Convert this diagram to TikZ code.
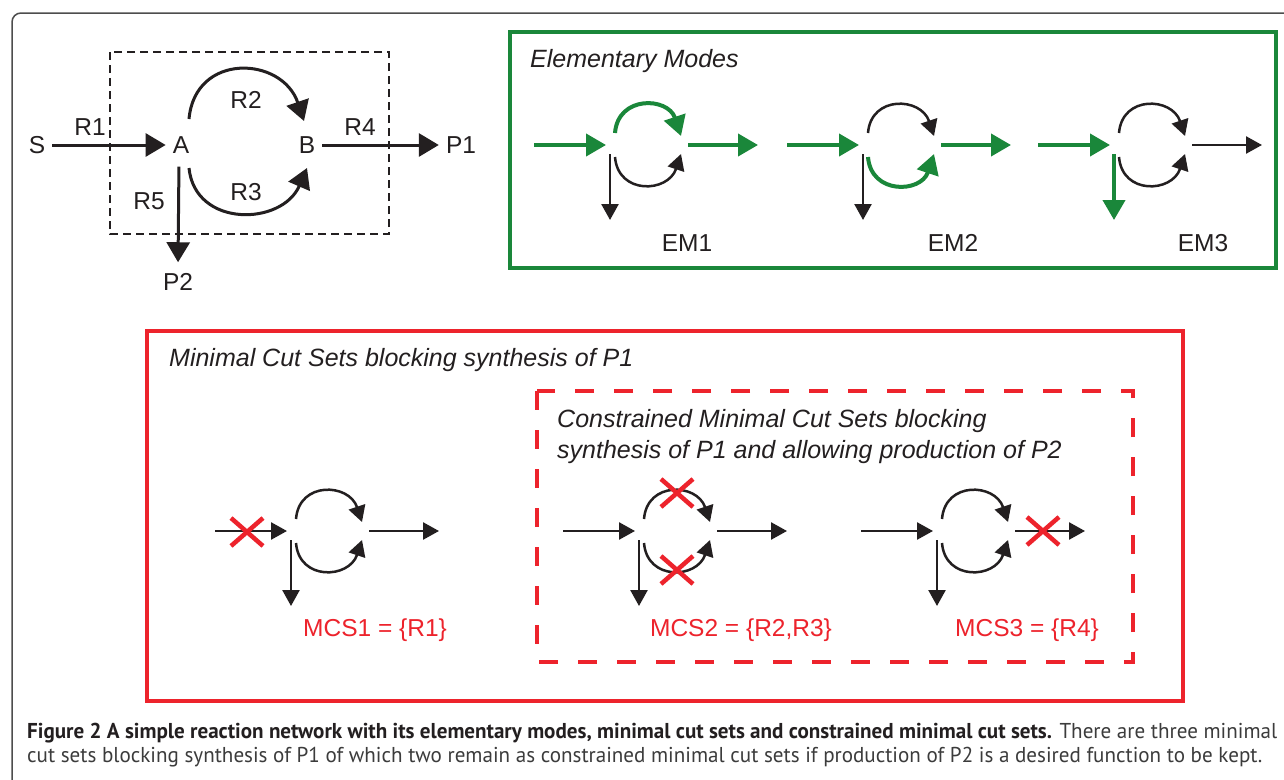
\documentclass[tikz,border=0pt]{standalone}
\usepackage{fontspec}
\usepackage{graphicx}
\setmainfont{Liberation Sans}
\newfontfamily\capfont{PT Sans}
\usetikzlibrary{arrows.meta,calc}

\definecolor{ink}{HTML}{231F20}
\definecolor{emgreen}{RGB}{26,135,58}
\definecolor{mcsred}{RGB}{237,35,44}
\definecolor{framegray}{HTML}{4D4D4D}
\definecolor{capgray}{HTML}{3C3C3C}

\tikzset{
  % one small copy of the network: input, upper branch, lower branch, side outlet, output
  pics/motif/.style n args={5}{code={
    \draw[#1] (-72,0) -- (0,0);
    \draw[#2] (9,-12) .. controls (12,-50) and (62,-48) .. (75,-9);
    \draw[#3] (9,12) .. controls (12,50) and (62,48) .. (75,9);
    \draw[#4] (4,9) -- (4,75);
    \draw[#5] (82,0) -- (152,0);
  }},
  % red cross marking a removed reaction
  pics/cut/.style={code={
    \draw[cutline] (-16,-14) -- (16,14) (-16,14) -- (16,-14);
  }}
}

\begin{document}
\begin{tikzpicture}[x=1pt,y=-1pt,
  lbl/.style={font=\fontsize{24.5}{28}\selectfont, text=ink, inner sep=0pt},
  redlbl/.style={font=\fontsize{24.5}{28}\selectfont, text=mcsred, inner sep=0pt},
  met/.style={font=\fontsize{24.5}{28}\selectfont, text=ink, inner sep=7pt},
  head/.style={font=\fontsize{25}{29}\selectfont\itshape, text=ink, inner sep=0pt, anchor=base west},
  rxn/.style={draw=ink, line width=3pt, -{Triangle[length=20pt,width=23pt]}},
  kflow/.style={draw=ink, line width=2.5pt, -{Triangle[length=16pt,width=17pt]}},
  gflow/.style={draw=emgreen, line width=4pt, -{Triangle[length=20pt,width=22pt]}},
  cutline/.style={draw=mcsred, line width=4.5pt},
  boxline/.style={line width=4.5pt},
]
\useasboundingbox (0,0) rectangle (1284,779);
\clip (0,0) rectangle (1284,779);
\fill[white] (0,0) rectangle (1284,779);

% outer figure frame
\draw[framegray, line width=1.5pt, rounded corners=9pt] (12,13) rectangle (1320,820);

% ---- reaction network ----
\draw[ink, line width=2pt, dash pattern=on 8pt off 5pt] (110,52) rectangle (389,234);
\node[met] (S)  at (37,145)  {S};
\node[met] (A)  at (181,145) {A};
\node[met] (B)  at (307,145) {B};
\node[met] (P1) at (461,145) {P1};
\node[met] (P2) at (178,282) {P2};

\draw[rxn] (S) -- (A);
\draw[rxn] (B) -- (P1);
\draw[rxn, shorten <=6pt, shorten >=4pt] ($(A.south)+(-2,0)$) -- (P2.north);
\draw[rxn] ($(A)+(8,-26)$) .. controls ($(A)+(14,-93)$) and ($(A)+(101,-89)$) .. ($(B)+(-3,-24)$);
\draw[rxn] ($(A)+(8,23)$) .. controls ($(A)+(14,83)$) and ($(A)+(101,81)$) .. ($(B)+(0,23)$);

\node[lbl] (r1) at (90,127)  {R1};
\node[lbl] (r2) at (246,100) {R2};
\node[lbl] (r3) at (246,192) {R3};
\node[lbl] (r4) at (360,127) {R4};
\node[lbl] (r5) at (149,201) {R5};

% ---- elementary modes ----
\draw[emgreen, boxline] (510,32) rectangle (1276,268);
\node[head] (emh) at (530,67) {Elementary Modes};
\pic (em1) at (606,145)  {motif={gflow}{gflow}{kflow}{kflow}{gflow}};
\pic (em2) at (859,145)  {motif={gflow}{kflow}{gflow}{kflow}{gflow}};
\pic (em3) at (1110,145) {motif={gflow}{kflow}{kflow}{gflow}{kflow}};
\node[lbl] (em1l) at (687,243)  {EM1};
\node[lbl] (em2l) at (953,243)  {EM2};
\node[lbl] (em3l) at (1203,243) {EM3};

% ---- minimal cut sets ----
\draw[mcsred, boxline] (147,331) rectangle (1183,701);
\node[head] (mcsh) at (169,366) {Minimal Cut Sets blocking synthesis of P1};
\draw[mcsred, boxline, dash pattern=on 19pt off 20pt] (537,391) rectangle (1133,662);
\node[head] (cm1) at (557,427) {Constrained Minimal Cut Sets blocking};
\node[head] (cm2) at (557,458) {synthesis of P1 and allowing production of P2};

\pic (m1) at (287,531) {motif={kflow}{kflow}{kflow}{kflow}{kflow}};
\pic (m2) at (635,531) {motif={kflow}{kflow}{kflow}{kflow}{kflow}};
\pic (m3) at (933,531) {motif={kflow}{kflow}{kflow}{kflow}{kflow}};
\pic (c1)  at (247,532)  {cut};
\pic (c2a) at (677,493)  {cut};
\pic (c2b) at (677,570)  {cut};
\pic (c3)  at (1043,531) {cut};
\node[redlbl] (m1l) at (375,630)  {MCS1 = \{R1\}};
\node[redlbl] (m2l) at (741,630)  {MCS2 = \{R2,R3\}};
\node[redlbl] (m3l) at (1027,630) {MCS3 = \{R4\}};

% ---- caption ----
\node[anchor=base west, inner sep=0pt] (cap) at (27,738) {\resizebox{1250pt}{\height}{\capfont\fontsize{21.5}{24}\selectfont
  \begin{tabular}[t]{@{}l@{}}
  \textcolor{ink}{\bfseries Figure 2 A simple reaction network with its elementary modes, minimal cut sets and constrained minimal cut sets.} \textcolor{capgray}{There are three minimal}\\
  \textcolor{capgray}{cut sets blocking synthesis of P1 of which two remain as constrained minimal cut sets if production of P2 is a desired function to be kept.}
  \end{tabular}}};
\end{tikzpicture}
\end{document}
